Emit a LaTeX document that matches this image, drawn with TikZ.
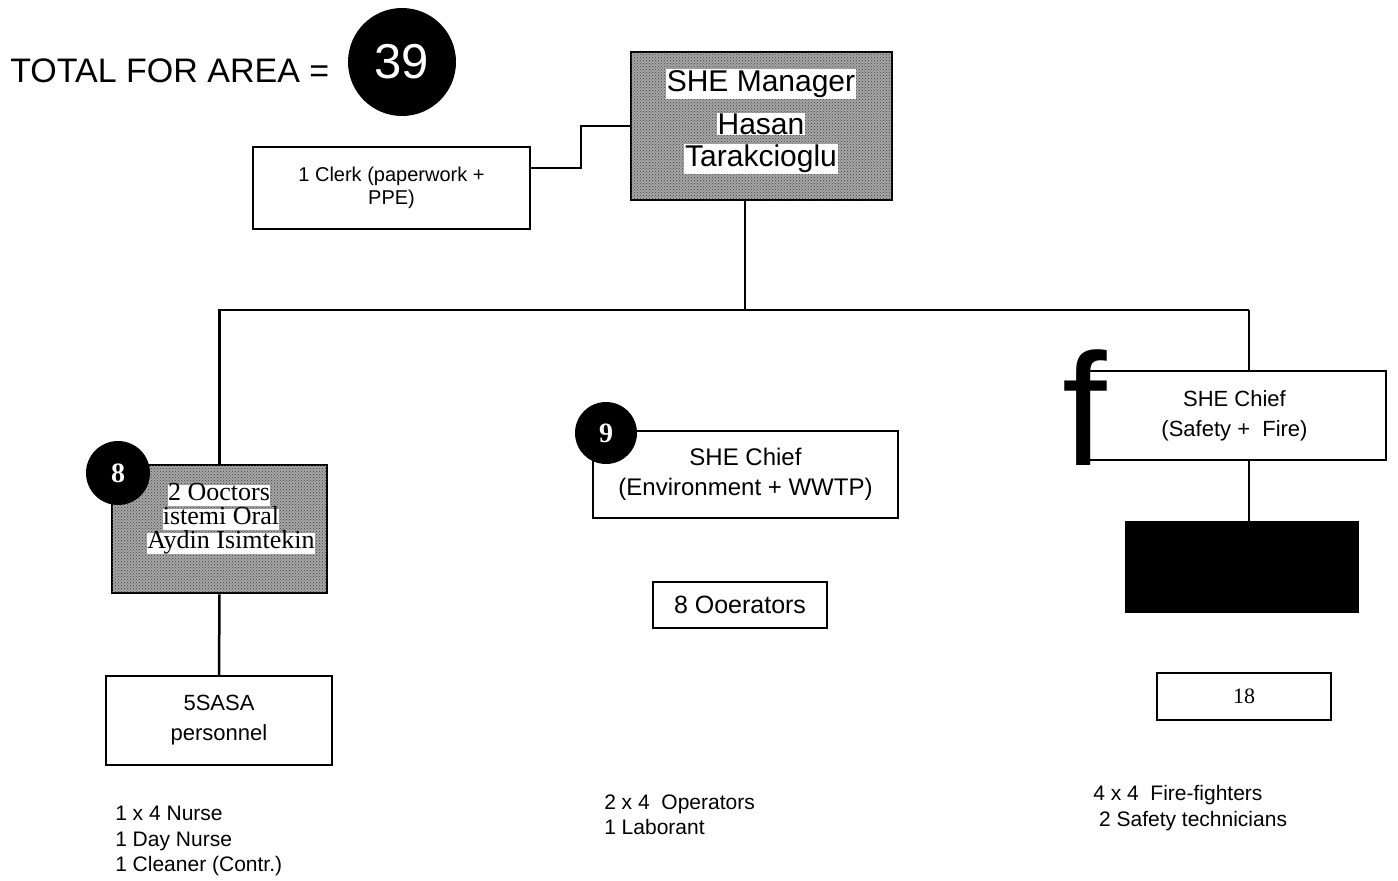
\documentclass[tikz,border=0pt]{standalone}
\usepackage{fontspec}
\setmainfont{Liberation Sans}
\newfontfamily\timesface{Liberation Serif}
\usetikzlibrary{positioning, patterns}

\begin{document}
\begin{tikzpicture}[x=1pt, y=-1pt, line width=2.5pt,
    orgbox/.style={draw, fill=white, align=center, inner sep=0pt, font=\fontsize{22}{30}\selectfont},
    greybox/.style={draw, fill=black!35, postaction={pattern=crosshatch dots, pattern color=black!75}, inner sep=0pt},
    badge/.style={circle, fill=black, text=white, inner sep=0pt},
    hilite/.style={fill=white, inner sep=1pt},
    drline/.style={fill=white, inner sep=0pt, text height=16pt, text depth=5pt, font=\timesface\fontsize{26}{26}\selectfont},
    staff/.style={anchor=west, align=left, inner sep=0pt, font=\fontsize{21}{25.5}\selectfont}]

    \useasboundingbox (0,0) rectangle (1398,881);

    % headline
    \node[anchor=base west, inner sep=0pt, font=\fontsize{34}{36}\selectfont] (total) at (9,82) {TOTAL FOR AREA =};
    \node[badge, minimum size=108pt, font=\fontsize{49}{50}\selectfont] (sum) at (402,62) {39};

    % top level
    \node[greybox, minimum width=261pt, minimum height=148pt] (mgr) at (761.5,126) {};
    \node[hilite, font=\fontsize{30}{30}\selectfont] (mgrA) at (761,84) {SHE Manager};
    \node[hilite, font=\fontsize{30}{30}\selectfont] (mgrB) at (761,124) {Hasan};
    \node[hilite, font=\fontsize{30}{30}\selectfont] (mgrC) at (761,159) {Tarakcioglu};
    \node[orgbox, minimum width=277pt, minimum height=82pt, font=\fontsize{20}{23}\selectfont] (clerk) at (391.5,188) {1 Clerk (paperwork +\\PPE)};

    \coordinate (ck) at (581,168);
    \draw (clerk.east |- ck) -- (ck) |- (mgr.west);

    % bus
    \coordinate (jm) at (745,310);
    \coordinate (jr) at (1249,310);
    \draw (mgr.south -| jm) -- (jm);

    % left branch
    \node[greybox, minimum width=215pt, minimum height=128pt] (doc) at (219.5,529) {};
    \node[drline] (docA) at (219,495) {2 Ooctors};
    \node[drline] (docB) at (221,519) {istemi Oral};
    \node[drline] (docC) at (231,543) {Aydin Isimtekin};
    \node[badge, minimum size=64pt, font=\timesface\bfseries\fontsize{28}{28}\selectfont] (nDoc) at (118,473) {8};
    \node[orgbox, minimum width=226pt, minimum height=89pt] (sasa) at (219,720.5) {5SASA\\personnel};
    \node[staff] (sasaList) at (114,841) {1 x 4 Nurse\\1 Day Nurse\\1 Cleaner (Contr.)};

    \draw (doc.north) |- (jr);
    \draw (doc.south) -- (sasa.north);

    % middle branch
    \node[orgbox, minimum width=305pt, minimum height=87pt, font=\fontsize{24}{30}\selectfont] (envc) at (745.5,474.5) {SHE Chief\\(Environment + WWTP)};
    \node[badge, minimum size=62pt, font=\timesface\bfseries\fontsize{28}{28}\selectfont] (nEnv) at (606,433) {9};
    \node[orgbox, minimum width=174pt, minimum height=46pt, font=\fontsize{25}{25}\selectfont] (ops) at (740,605) {8 Ooerators};
    \node[staff] (opsList) at (603,815) {2 x 4~~Operators\\1 Laborant};

    % right branch
    \node[orgbox, minimum width=303pt, minimum height=89pt] (safc) at (1234.5,415.5) {SHE Chief\\(Safety + ~Fire)};
    \node[anchor=base west, inner sep=0pt, font=\fontsize{160}{160}\selectfont] (bigf) at (1061,465) {f};
    \node[draw, fill=black, minimum width=232pt, minimum height=90pt] (blk) at (1242,567) {};
    \node[draw, fill=white, inner sep=0pt, minimum width=174pt, minimum height=47pt, font=\timesface\fontsize{22}{22}\selectfont] (fire) at (1244,696.5) {18};
    \node[staff] (fireList) at (1092,808) {4 x 4~~Fire-fighters\\\ 2 Safety technicians};

    \draw (jr) -- (safc.north -| jr);
    \draw (safc.south -| jr) -- (blk.north -| jr);
\end{tikzpicture}
\end{document}
